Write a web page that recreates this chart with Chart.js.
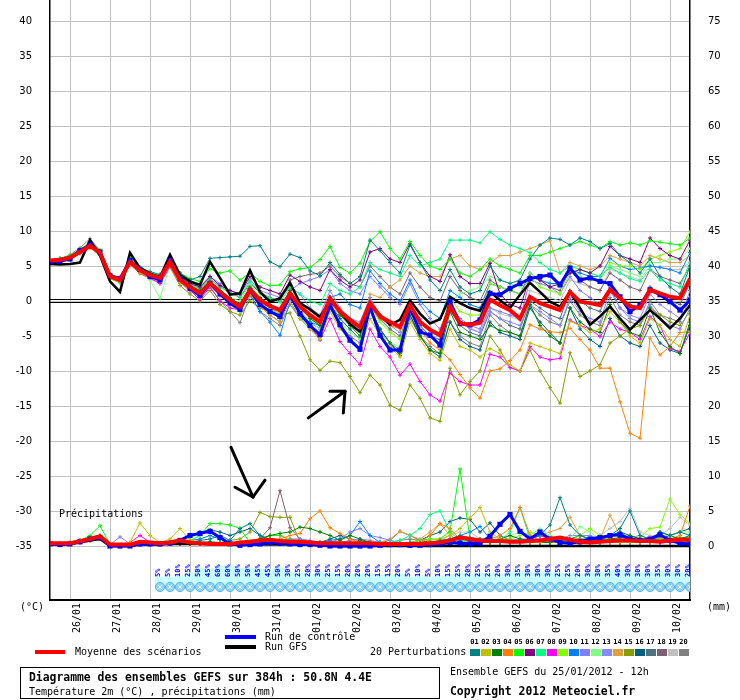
<!DOCTYPE html>
<html><head><meta charset="utf-8">
<script src="https://cdn.jsdelivr.net/npm/chart.js@4.4.0/dist/chart.umd.min.js"></script>
<style>
html,body{margin:0;padding:0;background:#fff;}
#wrap{position:relative;width:740px;height:700px;overflow:hidden;font-family:'DejaVu Sans Mono',monospace;color:#000;}
#c{position:absolute;left:0;top:0;}
.t{position:absolute;font-size:10px;line-height:12px;white-space:nowrap;}
.b{font-weight:bold;font-size:11.4px;line-height:14px;}
.bar{position:absolute;height:4px;width:31px;}
.sw{position:absolute;top:649px;width:10px;height:7px;}
.swl{position:absolute;top:638px;width:11px;text-align:center;font-size:7px;line-height:8px;font-weight:bold;}
#box{position:absolute;left:20px;top:667px;width:418px;height:30px;border:1.5px solid #000;}
</style></head><body>
<div id="wrap">
<canvas id="c" width="740" height="700"></canvas>
<div class="t" style="left:20px;top:601px;">(°C)</div>
<div class="t" style="left:707px;top:601px;">(mm)</div>
<div class="t" style="left:59px;top:508px;">Précipitations</div>
<div class="bar" style="left:35px;top:650px;background:#ff0000;width:30px;"></div>
<div class="t" style="left:75px;top:646px;">Moyenne des scénarios</div>
<div class="bar" style="left:225px;top:635px;background:#0000ff;"></div>
<div class="bar" style="left:225px;top:645px;background:#000;"></div>
<div class="t" style="left:265px;top:631px;">Run de contrôle</div>
<div class="t" style="left:265px;top:641px;">Run GFS</div>
<div class="t" style="left:370px;top:646px;">20 Perturbations</div>
<div id="swatches"></div>
<div id="box"></div>
<div class="t b" style="left:29px;top:670px;">Diagramme des ensembles GEFS sur 384h : 50.8N 4.4E</div>
<div class="t" style="left:29px;top:686px;">Température 2m (°C) , précipitations (mm)</div>
<div class="t" style="left:450px;top:666px;">Ensemble GEFS du 25/01/2012 - 12h</div>
<div class="t b" style="left:450px;top:684px;">Copyright 2012 Meteociel.fr</div>
</div>
<script>
// ---------- DATA ----------
const HOURS = [0,6,12,18,24,30,36,42,48,54,60,66,72,78,84,90,96,102,108,114,120,126,132,138,144,150,156,162,168,174,180,186,192,198,204,210,216,222,228,234,240,246,252,258,264,270,276,282,288,294,300,306,312,318,324,330,336,342,348,354,360,366,372,378,384];
const DATE_HOURS = [12,36,60,84,108,132,156,180,204,228,252,276,300,324,348,372];
const DATES = ['26/01','27/01','28/01','29/01','30/01','31/01','01/02','02/02','03/02','04/02','05/02','06/02','07/02','08/02','09/02','10/02'];
const T_TICKS = [-35,-30,-25,-20,-15,-10,-5,0,5,10,15,20,25,30,35,40];
const MM_TICKS = [0,5,10,15,20,25,30,35,40,45,50,55,60,65,70,75];
const MEMBER_NAMES = ['01','02','03','04','05','06','07','08','09','10','11','12','13','14','15','16','17','18','19','20'];
const MEMBER_COLORS = ['#008080','#c0c000','#008000','#ff8000','#00ff00','#800080','#00ff80','#ff00ff','#80ff00','#0080ff','#8080ff','#80ff80','#8888ff','#e0a040','#80a000','#006080','#507080','#806070','#c0c0c0','#808080'];
const SNOW_PCT = [5,5,10,25,50,45,60,60,50,50,45,45,50,30,25,20,30,25,15,20,20,20,15,15,20,5,10,5,10,15,25,20,25,25,20,30,35,30,30,30,25,25,20,30,30,35,40,30,30,30,35,30,30,20];
const PCT_HOURS = HOURS.slice(11);

// temperature (°C)
const MEAN_T = [5.8,5.9,6.2,7.0,7.9,6.9,3.5,3.0,5.6,4.4,3.7,3.3,5.6, 3.0,2.0,1.1,2.6,1.3,0.1,-0.8,1.6,0.1,-0.7,-1.3,1.1, -0.8,-2.0,-3.0,0.4,-1.5,-2.7,-3.7,-0.3,-2.2,-3.0,-3.7,-0.6, -3.0,-4.1,-4.9,-0.8,-3.2,-3.4,-3.1,0.2,-0.6,-1.3,-2.5,0.6, -0.3,-0.8,-1.3,1.3,-0.1,-0.3,-0.6,1.6,0.4,-0.8,-1.0,1.6,1.1,0.6,0.4,3.2];
const CTRL_T = [5.6,5.7,6.0,7.2,8.0,7.0,3.6,3.2,5.8,4.5,3.5,3.0,5.8, 3.2,1.8,0.8,2.5,1.0,-0.3,-1.2,1.5,-0.5,-1.5,-2.2,0.8, -1.8,-3.5,-4.8,-0.6,-3.4,-5.6,-6.9,-0.8,-4.9,-7.0,-7.0,-1.0, -4.4,-4.9,-6.3,-0.1,-3.2,-3.4,-2.7,1.1,0.9,1.8,2.5,3.2, 3.5,3.7,2.3,4.7,3.0,3.3,2.8,2.5,0.6,-1.5,-0.6,1.6,0.9,-0.1,-1.3,0.1];
const GFS_T = [5.3,5.2,5.3,5.5,8.7,6.5,2.8,1.3,6.9,4.7,3.9,3.4,6.6, 3.7,2.8,2.3,5.6,3.3,0.9,1.1,4.4,1.3,-0.1,0.4,2.6, -0.3,-1.2,-2.3,0.1,-1.5,-3.3,-4.4,-0.3,-2.0,-3.4,-2.7,0.1, -1.8,-3.2,-2.6,0.6,-0.3,-1.0,-1.4,1.3,0.1,-1.0,0.9,2.6, 1.3,-0.1,-0.8,1.3,-1.0,-3.4,-2.2,-0.8,-2.5,-4.1,-2.7,-1.3,-2.5,-3.9,-2.5,-0.6];
const T01 = [5.5,5.8,6.3,7.3,8.2,7.0,3.8,3.2,5.8,4.8,4.2,3.8,6.0, 4.0,3.0,3.5,6.1,6.2,6.3,6.4,7.8,7.9,5.6,4.9,6.7, 6.2,4.3,3.6,5.5,3.8,2.5,3.5,8.7,7.2,5.5,4.0,8.0, 5.5,3.0,1.5,4.5,2.0,1.0,1.5,5.0,3.0,2.5,3.0,6.0, 8.0,9.0,8.8,8.0,9.0,8.5,7.5,8.2,6.5,5.5,4.0,6.0,3.5,2.0,1.0,5.0];
const T02 = [5.4,5.6,6.0,6.8,7.6,6.6,3.2,2.8,5.4,4.0,3.4,3.0,5.2, 2.6,1.6,0.8,2.2,0.8,-0.5,-1.5,1.0,-0.8,-2.0,-3.0,0.0, -2.5,-4.0,-5.5,-1.5,-4.0,-5.5,-7.0,-2.5,-5.0,-6.5,-8.0,-3.0, -5.5,-7.5,-8.5,-4.0,-6.5,-7.0,-8.0,-6.8,-7.5,-9.1,-10.0,-6.0, -6.5,-7.0,-7.5,-2.9,-3.5,-4.5,-4.0,-1.5,-3.0,-5.0,-6.0,-2.5,-3.5,-5.5,-6.5,-2.0];
const T03 = [5.7,5.9,6.1,6.9,7.8,6.8,3.4,2.9,5.7,4.3,3.6,3.2,5.5, 3.0,2.2,1.5,2.8,1.5,0.5,-0.5,2.0,0.5,-0.5,-1.5,1.5, -0.5,-2.5,-3.5,0.5,-2.0,-3.5,-5.0,-1.0,-4.0,-6.0,-7.8,-2.0, -5.0,-7.0,-7.5,-1.5,-4.5,-5.0,-5.5,-3.5,-4.2,-4.5,-5.0,-0.5, -3.5,-5.0,-6.0,-1.0,-3.0,-4.0,-4.5,-0.5,-3.0,-4.5,-5.0,-1.0,-4.5,-6.5,-7.5,-3.0];
const T04 = [5.6,5.7,6.2,7.1,8.0,7.1,3.7,3.1,5.5,4.5,3.8,3.4,5.7, 3.1,2.0,1.2,2.8,1.4,0.2,-0.6,1.9,0.3,-0.6,-1.2,1.3, -0.8,-2.2,-3.2,0.6,-1.4,-2.8,-3.8,-0.4,-2.4,-3.5,-4.0,-1.5, -4.0,-6.0,-7.0,-8.4,-10.5,-12.4,-13.9,-10.0,-9.7,-8.5,-7.0,-3.4, -4.0,-4.4,-4.5,-3.9,-5.5,-7.0,-9.6,-9.6,-14.4,-18.9,-19.6,-5.3,-7.7,-6.5,-4.5,-4.4];
const T05 = [5.8,6.1,6.5,7.4,8.3,7.3,3.9,3.3,6.2,4.8,4.0,3.7,6.1, 4.0,3.2,2.8,4.6,4.0,4.3,3.0,4.0,2.8,2.2,2.3,4.2, 4.6,4.8,5.9,7.8,4.8,4.0,5.4,8.5,9.9,7.5,6.0,8.5, 6.5,5.0,4.5,6.0,4.0,3.5,4.5,6.0,5.0,4.5,4.0,6.5, 6.5,7.0,7.5,8.0,8.5,8.0,7.5,8.5,8.0,8.3,8.0,8.6,8.4,8.2,8.0,9.0];
const T06 = [5.5,5.7,6.2,7.2,8.1,7.0,3.6,3.1,5.9,4.6,3.9,3.5,5.9, 3.5,2.5,2.0,3.5,2.2,1.5,1.0,3.5,2.0,1.5,1.0,3.7, 2.8,2.0,1.5,4.5,3.0,2.0,3.0,7.0,7.5,6.0,5.5,8.2, 5.5,3.5,2.8,6.6,3.5,2.5,2.5,5.4,1.0,-0.5,-1.0,3.5, 3.0,2.0,2.5,4.0,4.5,4.0,5.0,7.8,6.5,6.0,5.5,9.0,7.5,6.5,6.0,8.7];
const T07 = [5.6,6.0,6.4,7.3,8.0,6.9,3.6,3.0,5.6,4.4,3.7,3.4,5.4, 3.2,2.4,1.8,3.2,2.0,1.2,0.6,2.8,1.2,0.4,-0.2,2.0, 1.0,0.0,-0.5,2.5,1.5,1.0,2.0,5.5,4.5,4.0,3.5,6.5, 5.0,5.5,6.0,8.7,8.7,8.7,8.3,9.9,8.8,8.0,7.5,6.9, 5.5,4.5,4.0,5.0,4.5,4.0,3.5,4.8,4.0,3.2,2.8,4.5,3.0,2.5,2.0,5.5];
const T08 = [5.9,6.1,6.4,7.2,8.0,6.8,3.4,2.8,5.3,4.0,3.3,2.5,5.0, 2.6,1.5,0.2,2.0,0.0,-1.0,-1.3,1.2,-0.8,-2.0,-3.0,0.5, -2.0,-3.5,-5.6,-2.5,-5.8,-7.5,-9.1,-4.0,-6.5,-8.0,-10.6,-9.0, -11.5,-13.4,-14.3,-10.3,-11.5,-12.0,-12.0,-7.6,-8.0,-9.5,-10.0,-6.5, -8.0,-8.4,-8.2,-2.7,-3.5,-4.0,-5.1,-3.0,-4.0,-4.5,-5.5,-2.2,-3.5,-6.8,-7.2,-4.5];
const T09 = [5.5,5.8,6.1,7.0,7.9,6.9,3.5,3.1,5.6,4.4,3.7,3.3,5.6, 3.0,2.0,1.0,2.6,1.2,0.0,-0.8,1.5,0.0,-1.0,-2.0,1.0, -1.0,-2.5,-3.5,0.0,-2.0,-3.5,-4.5,-0.5,-3.0,-4.5,-5.5,-1.0, -3.0,-4.0,-4.5,0.5,-1.5,-2.0,-2.0,2.5,2.0,1.5,1.0,3.5, 2.0,1.5,1.0,4.0,3.5,3.0,3.0,5.5,5.0,5.0,4.5,6.0,6.5,7.0,7.5,9.9];
const T10 = [5.7,5.9,6.3,7.0,7.8,6.8,3.5,3.0,5.5,4.3,3.5,3.1,5.4, 2.8,1.8,0.8,2.4,0.8,-0.5,-1.5,1.0,-1.5,-3.0,-4.9,0.0, -2.5,-3.0,-3.5,0.5,1.0,-0.5,-1.0,4.3,2.5,1.0,0.0,3.0, 0.0,-1.5,-2.5,1.5,0.5,-0.5,-1.0,2.5,2.0,1.5,1.0,3.5, 3.0,2.5,2.5,4.5,4.0,3.5,3.5,6.1,5.0,4.5,4.7,5.0,4.8,4.5,4.0,6.9];
const T11 = [5.5,5.7,6.0,6.9,7.7,6.7,3.3,2.8,5.4,4.2,3.5,3.0,5.3, 2.8,1.8,1.0,2.5,1.0,0.0,-1.0,1.5,-0.5,-1.5,-2.5,1.5, 2.5,3.0,3.5,4.5,2.5,1.5,1.0,3.5,2.0,0.5,-0.5,2.5, -0.5,-2.5,-4.0,-0.5,-2.5,-3.5,-4.0,-1.0,-1.5,-2.0,-2.5,3.0, 2.5,2.0,1.0,3.5,1.5,0.5,-0.5,2.0,-1.0,-2.5,-3.0,-0.5,-2.5,-3.5,-4.0,-1.0];
const T12 = [5.6,5.8,6.1,7.1,7.9,6.8,3.8,3.4,6.0,4.6,3.0,0.4,5.2, 3.5,2.5,1.5,3.0,1.5,0.5,0.0,2.5,0.5,-0.5,-1.5,1.0, -1.5,-3.0,-4.0,-0.5,-3.0,-4.5,-5.5,-1.5,-4.5,-6.0,-6.5,-2.0, -3.0,-4.0,-4.5,0.0,1.0,1.5,2.0,3.5,3.0,2.5,2.0,4.0, 3.0,2.5,2.0,5.0,4.5,4.0,3.5,5.0,4.5,4.0,3.5,5.5,5.5,6.0,6.0,7.5];
const T13 = [5.4,5.6,6.0,6.8,7.6,6.7,3.5,3.0,5.5,4.4,3.8,3.4,5.8, 3.6,2.8,2.0,3.5,2.5,1.5,1.0,3.0,1.5,1.0,0.5,2.0, 1.0,-1.0,-2.0,1.5,-1.0,-2.5,-3.0,0.5,-2.0,-3.5,-4.5,-0.5, -2.5,-4.5,-5.0,-1.5,-3.0,-4.0,-4.5,-1.5,-2.5,-3.0,-3.5,-0.5, -1.5,-2.5,-3.5,0.5,-1.5,-2.5,-3.0,1.5,-1.0,-2.0,-2.5,1.0,-0.5,-1.5,-2.5,1.5];
const T14 = [5.7,5.9,6.2,7.1,7.9,6.8,3.3,2.9,5.4,4.2,3.5,3.1,5.5, 2.9,1.9,1.0,2.5,1.2,0.2,-0.5,1.8,0.2,-0.8,-1.8,1.2, -0.5,-2.0,-3.5,-0.5,-2.0,-3.0,-4.0,1.0,0.5,2.0,3.0,5.0, 4.0,3.5,3.5,6.0,6.5,5.0,4.5,5.4,6.5,6.5,7.0,7.5, 8.0,8.6,4.0,5.5,5.0,4.5,5.0,6.5,6.0,5.5,5.0,6.5,6.0,5.5,5.5,6.5];
const T15 = [5.5,5.6,5.9,6.8,7.6,6.5,3.2,2.6,5.2,3.9,3.2,2.5,4.8, 2.2,1.0,0.0,1.5,-0.5,-1.5,-2.0,0.0,-1.0,-1.5,-2.0,-1.7, -5.0,-8.4,-9.9,-8.6,-8.8,-10.8,-13.1,-10.6,-12.0,-14.9,-15.6,-12.0, -13.9,-16.7,-17.2,-9.6,-13.4,-11.5,-10.0,-5.0,-7.0,-9.5,-10.0,-7.0, -10.0,-12.4,-14.6,-7.4,-10.8,-10.0,-9.1,-6.0,-5.0,-4.0,-3.5,-1.0,-2.0,-3.0,-3.5,-1.5];
const T16 = [5.6,5.8,6.1,7.0,7.8,6.9,3.6,3.0,5.6,4.5,3.8,3.4,5.7, 3.2,2.2,1.5,3.0,1.5,0.5,-0.5,1.5,0.0,-1.0,-2.0,0.5, -1.5,-3.0,-4.0,-0.5,-2.5,-4.0,-5.5,-1.0,-4.0,-6.0,-7.5,-2.0, -5.0,-7.0,-8.0,-3.0,-5.5,-6.5,-7.0,-3.0,-4.5,-5.0,-5.5,-1.0, -3.0,-4.5,-6.0,-1.0,-4.0,-5.5,-6.5,-2.5,-5.0,-6.0,-6.5,-3.5,-6.0,-7.0,-7.5,-3.5];
const T17 = [5.5,5.7,6.1,7.0,7.8,6.7,3.4,2.9,5.5,4.3,3.6,3.2,5.5, 2.9,1.9,1.2,2.7,1.2,0.0,-1.0,1.3,-0.5,-1.5,-2.5,0.8, -1.0,-2.5,-3.5,0.5,-2.0,-3.0,-4.0,0.0,-2.5,-4.0,-5.0,-1.5, -3.5,-5.0,-5.5,-1.0,-3.5,-4.5,-5.0,-1.5,-2.5,-3.5,-4.0,0.0, -1.0,-2.0,-2.5,1.5,0.0,-1.0,-1.5,2.0,0.5,-0.5,-1.0,2.0,1.0,0.0,-0.5,2.5];
const T18 = [5.4,5.6,6.0,6.9,7.7,6.7,3.5,3.0,5.6,4.5,3.8,3.5,5.8, 3.4,2.4,1.8,3.2,2.0,1.2,0.5,2.5,1.2,0.5,0.0,3.0, 3.5,3.8,4.0,5.0,3.5,2.5,2.0,5.0,3.5,2.0,1.0,4.0, 2.0,0.5,0.0,3.5,1.5,0.5,0.0,3.0,2.0,1.5,1.0,4.0, 3.0,2.0,1.5,4.5,3.0,2.0,1.5,4.0,3.0,2.0,1.5,4.5,3.5,3.0,2.5,5.0];
const T19 = [5.6,5.8,6.2,7.0,7.9,6.9,3.5,3.1,5.7,4.4,3.6,3.2,5.6, 3.0,2.1,1.2,2.7,1.3,0.2,-0.6,1.6,0.0,-1.0,-1.8,1.0, -0.8,-2.3,-3.4,0.3,-1.8,-3.2,-4.5,-0.5,-2.8,-4.2,-5.5,-1.2, -3.5,-5.0,-6.0,-1.5,-3.0,-3.8,-4.5,-1.0,-1.8,-2.2,-2.8,1.5, 1.0,0.5,0.0,3.0,2.5,2.0,1.5,4.5,4.0,3.5,3.0,5.0,4.8,4.5,4.5,5.5];
const T20 = [5.5,6.0,6.6,7.6,8.9,7.2,3.5,3.0,5.8,4.5,3.4,2.8,5.8, 3.0,1.5,0.5,2.0,0.0,-1.5,-3.1,0.8,-1.5,-2.5,-3.5,-0.5, -2.5,-4.0,-5.0,-1.0,-3.5,-5.0,-6.0,-1.5,-4.5,-6.0,-7.0,-2.5, -5.0,-6.5,-7.5,-3.0,-5.0,-6.0,-6.5,-2.0,-3.5,-4.5,-5.0,-0.5, -2.0,-3.0,-3.5,0.0,-2.0,-3.0,-3.5,0.5,-2.0,-3.0,-3.5,0.0,-2.0,-2.5,-3.0,0.5];

// precipitation (mm)
const MEAN_P = [0.4,0.4,0.4,0.7,1.0,1.4,0.2,0.2,0.2,0.6,0.5,0.4,0.5, 0.8,0.5,0.4,0.3,0.3,0.3,0.5,0.6,0.8,0.9,0.7,0.6, 0.6,0.5,0.4,0.4,0.4,0.4,0.4,0.4,0.3,0.3,0.3,0.3, 0.3,0.4,0.5,0.8,1.2,1.0,0.8,0.7,0.7,0.6,0.6,0.7, 0.8,1.0,1.2,0.9,0.6,0.5,0.6,0.7,0.8,0.8,0.7,0.7,0.6,0.8,0.9,0.9];
const CTRL_P = [0.3,0.2,0.3,0.6,1.0,1.2,0,0,0,0.3,0.3,0.3,0.4, 0.8,1.5,1.8,2.1,1.2,0.3,0.1,0.2,0.3,0.5,0.4,0.3, 0.2,0.2,0.1,0,0,0,0,0,0.1,0.2,0.2,0.1, 0.1,0.2,0.3,0.5,0.4,0.3,0.4,1.4,3.1,4.5,2.1,1.0, 2.0,1.0,0.5,0.4,0.6,1.0,1.2,1.5,1.6,1.0,0.8,1.0,1.6,0.8,0.4,0.3];
const GFS_P = [0.2,0.2,0.3,0.5,0.8,1.0,0,0,0,0.2,0.2,0.2,0.3, 0.3,0.3,0.3,0.3,0.2,0.2,0.2,0.2,0.2,0.2,0.2,0.2, 0.2,0.2,0.1,0,0,0,0,0,0,0,0,0, 0,0,0,0,0,0,0,0,0,0,0,0, 0,0,0,0,0,0,0,0,0,0,0,0,0,0,0,0];
const P01 = [0.3,0.3,0.5,0.8,1.2,1.5,0,0,0,0.3,0.3,0.3,0.5, 0.5,0.5,0.8,1.0,1.5,0.8,2.5,3.2,1.5,0.5,0.3,0.3, 0.3,0.2,0.2,0.2,0.3,0.5,0.5,0.3,0.2,0.2,0.3,0.5, 0.5,0.5,0.8,1.0,1.5,1.2,1.0,1.0,0.5,0.5,0.8,1.0, 1.5,3.0,6.9,3.0,1.5,1.0,0.8,1.5,2.5,5.0,1.5,1.0,2.0,1.5,2.0,1.5];
const P02 = [0.2,0.3,0.4,0.8,1.0,1.2,0,0,0.5,3.3,1.5,0.5,1.0, 2.5,0.8,0.5,0.3,0.2,0.2,0.3,0.3,0.5,0.3,0.2,0.2, 0.2,0.2,0.3,0.3,0.2,0.2,0.2,0.2,0.2,0.3,0.3,0.5, 0.8,0.8,1.0,1.5,2.5,4.0,5.5,2.0,1.0,0.8,0.5,0.5, 0.5,0.8,1.0,0.8,0.5,0.8,1.2,0.8,0.5,0.5,0.8,1.0,1.2,0.8,0.5,0.5];
const P03 = [0.3,0.3,0.4,0.6,1.0,1.3,0,0,0,0.2,0.3,0.3,0.4, 0.5,0.5,0.5,0.6,0.5,0.4,0.3,0.5,1.0,1.5,1.8,2.0, 2.7,2.5,2.0,1.5,0.8,1.5,1.0,0.5,0.3,0.3,0.2,0.3, 0.3,0.5,0.5,0.8,1.0,0.8,0.5,0.5,1.0,1.5,1.0,0.8, 0.5,0.5,0.8,1.0,0.8,0.5,0.5,1.0,1.2,1.5,1.0,0.8,2.0,1.5,1.0,1.5];
const P04 = [0.2,0.2,0.3,0.5,0.8,1.0,0,0,0,0.2,0.2,0.3,0.3, 0.3,0.3,0.3,0.4,0.3,0.3,0.3,0.4,0.5,0.8,1.0,1.5, 1.8,3.9,5.0,2.6,1.8,1.0,0.5,0.3,0.2,0.2,0.2,0.3, 0.5,1.5,3.2,2.5,1.0,0.8,0.8,1.0,1.5,2.5,5.5,1.5, 0.8,0.5,0.5,0.8,1.0,0.8,0.5,0.5,0.5,0.8,0.5,0.5,0.8,1.0,1.5,5.7];
const P05 = [0.3,0.3,0.5,0.8,1.5,2.9,0.2,0,0,0.3,0.3,0.3,0.5, 0.5,0.8,1.5,3.2,3.2,3.0,2.5,0.5,1.0,1.5,1.5,0.8, 0.5,0.3,0.3,0.2,0.2,0.3,0.5,0.5,0.5,0.5,0.3,0.5, 0.8,1.0,1.0,2.1,11.0,1.0,0.8,0.5,0.5,0.8,0.8,0.5, 0.5,0.5,0.8,0.8,0.5,0.5,0.8,1.0,1.0,0.5,0.5,0.8,1.0,0.8,0.5,0.8];
const P06 = [0.2,0.2,0.3,0.5,0.8,1.0,0,0,0,0.2,0.2,0.2,0.3, 0.3,0.3,0.3,0.3,0.3,0.3,0.3,0.3,0.5,0.5,0.5,0.5, 0.3,0.3,0.3,0.2,0.2,0.2,0.2,0.2,0.2,0.2,0.2,0.3, 0.3,0.3,0.3,0.5,0.5,0.5,0.5,0.8,1.0,0.8,0.5,0.5, 0.5,0.5,0.5,0.5,0.5,0.8,1.0,0.8,0.5,0.5,0.5,0.8,0.8,0.5,0.5,0.5];
const P07 = [0.3,0.3,0.4,0.6,1.0,1.2,0,0,0,0.3,0.3,0.3,0.4, 0.4,0.4,0.4,0.5,0.4,0.3,0.3,0.3,0.5,0.5,0.5,0.5, 0.5,0.4,0.3,0.3,0.3,0.3,0.3,0.3,0.3,0.5,0.8,1.5, 2.5,4.5,5.0,2.0,0.8,0.5,0.5,0.5,0.8,2.0,5.5,1.0, 0.5,0.5,0.5,0.8,0.8,0.5,0.5,0.5,0.8,0.8,0.5,0.5,0.8,0.8,0.5,0.5];
const P08 = [0.5,0.3,0.3,0.5,0.8,1.0,0,0,0.5,1.5,0.5,0.3,0.3, 0.3,0.3,0.3,0.3,0.3,0.3,0.3,0.3,0.3,0.3,0.3,0.3, 0.3,0.3,0.3,0.3,0.3,0.3,0.3,0.3,0.3,0.3,0.3,0.3, 0.3,0.3,0.3,0.5,0.5,0.5,0.5,0.5,0.5,0.5,0.5,1.0, 1.5,1.0,0.5,0.5,0.5,0.5,0.5,0.5,0.5,0.5,0.5,0.5,0.5,0.5,0.5,0.5];
const P09 = [0.3,0.3,0.4,0.6,1.0,1.2,0,0,0,0.3,0.3,0.3,0.4, 0.4,0.4,0.4,0.4,0.4,0.3,0.3,0.3,0.3,0.3,0.3,0.3, 0.3,0.3,0.3,0.3,0.3,0.3,0.3,0.3,0.3,0.3,0.3,0.3, 0.3,0.5,0.5,0.5,0.5,0.8,0.8,0.8,1.0,1.0,1.5,2.0, 1.5,1.0,0.8,0.8,1.5,2.5,1.5,1.0,0.8,0.8,1.2,2.5,2.7,6.7,4.5,3.2];
const P10 = [0.3,0.3,0.4,0.6,1.0,1.2,0,0,0,0.3,0.3,0.3,0.5, 0.5,0.8,1.0,1.5,1.0,0.5,0.3,0.3,0.3,0.3,0.3,0.3, 0.3,0.5,0.5,0.8,1.0,1.5,3.5,1.5,0.5,0.3,0.3,0.3, 0.3,0.3,0.5,0.8,1.5,2.0,2.8,1.0,0.5,0.5,0.8,0.8, 0.5,0.5,0.5,0.8,0.8,1.0,1.0,0.8,0.5,0.5,0.8,1.0,1.0,0.8,0.8,0.5];
const P11 = [0.3,0.3,0.4,0.6,1.0,1.2,0.2,1.3,0.3,0.3,0.3,0.3,0.4, 0.4,0.4,0.4,0.5,0.5,0.5,0.5,0.5,0.5,0.5,0.8,1.0, 1.0,0.8,0.5,0.5,1.0,2.0,2.5,1.5,1.2,0.8,0.5,0.5, 0.5,0.5,0.5,0.5,0.5,0.5,0.8,0.8,0.8,0.8,0.8,1.0, 1.5,1.0,0.8,0.5,0.5,1.0,1.5,1.0,0.8,0.8,0.5,0.5,0.5,0.5,0.8,0.8];
const P12 = [0.3,0.3,0.4,0.6,1.0,1.3,0,0,0,0.3,0.3,0.3,0.5, 0.5,0.5,0.5,0.5,0.5,0.5,0.5,0.5,0.5,0.5,0.5,0.5, 0.5,0.5,0.5,0.5,0.5,0.5,0.5,0.5,0.5,0.5,0.5,0.5, 0.5,0.5,0.5,0.8,1.0,1.0,1.0,1.0,1.0,1.5,2.0,1.5, 2.5,1.5,1.0,1.0,2.8,2.0,1.0,1.0,1.0,1.0,1.0,1.0,1.5,1.5,2.0,2.0];
const P13 = [0.3,0.3,0.4,0.6,1.0,1.2,0,0,0,0.3,0.3,0.3,0.4, 0.4,0.4,0.4,0.4,0.4,0.3,0.3,0.3,0.5,0.5,0.5,0.5, 0.5,0.5,0.5,0.5,0.5,0.8,1.0,0.8,0.5,0.5,0.5,0.5, 0.5,0.5,0.5,0.5,0.5,0.5,0.5,0.5,0.5,0.8,1.0,1.0, 1.0,1.0,1.0,1.5,1.5,1.5,1.0,1.0,1.0,1.2,1.5,1.0,1.0,1.0,0.8,0.8];
const P14 = [0.3,0.3,0.4,0.6,1.0,1.2,0,0,0,0.3,0.3,0.3,0.4, 0.4,0.4,0.4,0.4,0.4,0.3,0.5,0.8,1.0,1.5,1.5,1.0, 0.8,0.5,0.5,0.5,0.5,0.5,0.5,0.5,0.5,1.0,2.1,1.5, 1.0,2.0,3.2,1.5,0.8,0.5,0.5,0.5,0.8,0.8,0.8,1.0, 1.5,2.0,2.5,4.1,1.5,1.0,1.0,4.4,1.5,1.0,0.8,0.8,0.8,0.8,1.0,1.0];
const P15 = [0.3,0.3,0.4,0.6,1.0,1.2,0,0,0,0.3,0.3,0.3,0.4, 0.4,0.4,0.4,0.4,0.5,0.8,1.0,2.0,4.8,4.2,4.1,4.1, 0.5,0.3,0.3,0.3,0.3,0.3,0.3,0.3,0.3,0.3,0.3,0.3, 0.3,0.5,0.5,0.5,0.8,1.0,1.0,0.8,0.8,0.8,0.8,0.8, 0.8,0.8,0.8,0.8,0.8,1.0,1.0,1.0,1.0,1.0,1.0,1.0,1.0,1.0,1.2,1.2];
const P16 = [0.3,0.3,0.4,0.6,1.0,1.2,0,0,0,0.3,0.3,0.3,0.4, 0.8,1.5,2.0,2.3,2.0,1.5,2.0,2.5,1.5,1.0,0.5,0.5, 0.5,0.5,0.5,1.0,1.5,1.0,0.8,0.5,0.5,0.5,0.5,0.5, 0.8,1.5,2.0,3.5,4.0,3.8,2.0,3.3,1.5,0.8,0.5,0.5, 0.5,0.5,0.8,1.0,1.5,1.0,0.8,1.5,2.0,1.5,1.0,0.8,1.0,1.5,2.0,2.5];
const P17 = [0.3,0.3,0.4,0.6,1.0,1.2,0,0,0,0.3,0.3,0.3,0.4, 0.4,0.4,0.4,0.4,0.4,0.3,0.3,0.3,0.3,0.5,0.5,0.5, 0.5,0.5,0.5,0.5,0.5,0.5,0.5,0.5,0.5,0.5,0.5,0.5, 0.5,0.5,0.5,0.5,0.5,0.5,0.5,0.8,0.8,0.8,0.8,0.8, 0.8,0.8,0.8,1.0,1.0,1.0,1.0,1.2,2.0,1.0,1.0,0.8,0.8,0.8,0.8,0.8];
const P18 = [0.3,0.3,0.4,0.6,1.0,1.2,0,0,0,0.3,0.3,0.3,0.4, 0.4,0.4,0.4,0.4,0.4,0.3,0.3,0.5,1.0,2.6,7.9,2.6, 1.0,0.5,0.5,0.5,0.5,0.5,0.5,0.5,0.5,0.8,2.1,1.5, 0.8,0.5,0.5,0.5,0.5,0.5,0.5,0.5,0.5,0.5,0.5,0.5, 0.5,0.5,0.5,0.5,0.5,0.5,0.5,0.5,0.5,0.5,0.5,0.5,0.5,0.5,0.5,0.5];
const P19 = [0.3,0.3,0.4,0.6,1.0,1.2,0,0,0,0.3,0.3,0.3,0.4, 0.4,0.4,0.4,0.4,0.4,0.3,0.3,0.3,0.3,0.3,0.3,0.3, 0.3,0.3,0.3,0.3,0.3,0.3,0.3,0.3,0.3,0.3,0.3,0.3, 0.3,0.5,0.8,1.5,2.0,2.0,1.0,0.8,0.8,0.8,0.8,0.8, 0.8,0.8,0.8,0.8,0.8,1.0,1.5,2.5,3.5,5.4,2.0,1.5,1.5,2.5,4.1,3.0];
const P20 = [0.3,0.3,0.4,0.8,1.2,1.5,0,0,0,0.3,0.3,0.3,0.4, 0.4,0.4,0.4,0.4,0.4,0.3,0.3,0.3,0.3,0.3,0.3,0.3, 0.3,0.3,0.3,0.3,0.3,0.3,0.3,0.3,0.3,0.5,0.8,1.0, 0.8,0.5,0.5,0.5,0.5,0.5,0.5,0.5,0.5,0.5,0.5,0.5, 0.5,0.5,0.5,0.5,0.8,1.0,0.8,0.5,0.5,0.5,0.5,0.5,0.5,0.5,0.5,0.5];

const MEMBERS_T = [T01,T02,T03,T04,T05,T06,T07,T08,T09,T10,T11,T12,T13,T14,T15,T16,T17,T18,T19,T20];
const MEMBERS_P = [P01,P02,P03,P04,P05,P06,P07,P08,P09,P10,P11,P12,P13,P14,P15,P16,P17,P18,P19,P20];

// annotation arrows, in (hours, °C)
const ARROWS = [
  {tail:[155,-16.7], tip:[177,-12.9], heads:[[168,-12.9],[176,-16.0]]},
  {tail:[108.6,-20.9], tip:[121.8,-28.0], heads:[[111,-26.6],[129,-25.6]]}
];
const PCT_TEXT_BASE = 5;   // on the hidden yP scale
const ICON_LEVEL = -45;
const BAR_BASE = -50;

// ---------- legend swatches ----------
const sw = document.getElementById('swatches');
MEMBER_NAMES.forEach((n,i)=>{
  const l = document.createElement('div'); l.className='swl'; l.style.left=(469+11*i)+'px'; l.textContent=n; sw.appendChild(l);
  const b = document.createElement('div'); b.className='sw'; b.style.left=(470+11*i)+'px'; b.style.background=MEMBER_COLORS[i]; sw.appendChild(b);
});

// ---------- chart ----------
const xy = arr => arr.map((v,i)=>({x:HOURS[i], y:v}));
const datasets = [];
datasets.push({data:xy(MEAN_T), borderColor:'#ff0000', borderWidth:4, pointRadius:0, yAxisID:'y', order:0});
datasets.push({data:xy(CTRL_T), borderColor:'#0000ff', backgroundColor:'#0000ff', borderWidth:3, pointRadius:1.5, pointStyle:'rect', yAxisID:'y', order:1});
datasets.push({data:xy(GFS_T), borderColor:'#000000', backgroundColor:'#000', borderWidth:2.5, pointRadius:0, yAxisID:'y', order:2});
datasets.push({data:xy(MEAN_P), borderColor:'#ff0000', borderWidth:4, pointRadius:0, yAxisID:'y2', order:0});
datasets.push({data:xy(CTRL_P), borderColor:'#0000ff', backgroundColor:'#0000ff', borderWidth:3, pointRadius:1.5, pointStyle:'rect', yAxisID:'y2', order:1});
datasets.push({data:xy(GFS_P), borderColor:'#000000', borderWidth:2.5, pointRadius:0, yAxisID:'y2', order:2});
MEMBERS_T.forEach((arr,k)=>{
  datasets.push({data:xy(arr), borderColor:MEMBER_COLORS[k], backgroundColor:MEMBER_COLORS[k], borderWidth:1, pointRadius:2, pointStyle:'cross', pointBorderWidth:1, yAxisID:'y', order:3+k});
  datasets.push({data:xy(MEMBERS_P[k]), borderColor:MEMBER_COLORS[k], backgroundColor:MEMBER_COLORS[k], borderWidth:1, pointRadius:2, pointStyle:'cross', pointBorderWidth:1, yAxisID:'y2', order:3+k});
});
// snow probability band, icons
datasets.push({type:'bar', data:PCT_HOURS.map((h,i)=>({x:h, y:SNOW_PCT[i]})), base:BAR_BASE, backgroundColor:'#c8ffff', borderWidth:0, barPercentage:1, categoryPercentage:1, yAxisID:'yP', order:60});
datasets.push({data:PCT_HOURS.map(h=>({x:h, y:ICON_LEVEL})), showLine:false, pointStyle:'circle', pointRadius:4.6, backgroundColor:'#8fd3f5', borderColor:'#58b4e6', pointBorderWidth:1, yAxisID:'yP', order:59});
datasets.push({data:PCT_HOURS.map(h=>({x:h, y:ICON_LEVEL})), showLine:false, pointStyle:'crossRot', pointRadius:3, borderColor:'#e6f8ff', pointBorderWidth:1, yAxisID:'yP', order:58});

const overlay = {
  id:'overlay',
  beforeDatasetsDraw(chart){
    const {ctx, chartArea:a, scales} = chart;
    const y0 = scales.y.getPixelForValue(0);
    ctx.save(); ctx.strokeStyle='#000'; ctx.lineWidth=1;
    [y0-2, y0+1].forEach(yy=>{ const p=Math.round(yy)+0.5; ctx.beginPath(); ctx.moveTo(a.left,p); ctx.lineTo(a.right,p); ctx.stroke(); });
    ctx.restore();
  },
  afterDatasetsDraw(chart){
    const {ctx, chartArea:a, scales} = chart;
    const xs = scales.x, yP = scales.yP, ys = scales.y;
    ctx.save();
    ctx.beginPath(); ctx.rect(a.left,a.top,a.right-a.left,a.bottom-a.top); ctx.clip();
    ctx.fillStyle='#0000ff'; ctx.font='bold 7px "DejaVu Sans Mono"'; ctx.textAlign='left'; ctx.textBaseline='middle';
    const yb = yP.getPixelForValue(PCT_TEXT_BASE);
    PCT_HOURS.forEach((h,i)=>{
      ctx.save(); ctx.translate(xs.getPixelForValue(h)-2, yb); ctx.rotate(-Math.PI/2);
      ctx.fillText(SNOW_PCT[i]+'%',0,0); ctx.restore();
    });
    ctx.strokeStyle='#000'; ctx.lineWidth=3; ctx.lineCap='round'; ctx.lineJoin='round';
    const P = p => [xs.getPixelForValue(p[0]), ys.getPixelForValue(p[1])];
    ARROWS.forEach(ar=>{
      const t=P(ar.tail), tp=P(ar.tip);
      ctx.beginPath(); ctx.moveTo(t[0],t[1]); ctx.lineTo(tp[0],tp[1]); ctx.stroke();
      ar.heads.forEach(hd=>{ const h=P(hd); ctx.beginPath(); ctx.moveTo(h[0],h[1]); ctx.lineTo(tp[0],tp[1]); ctx.stroke(); });
    });
    ctx.restore();
  },
  afterDraw(chart){
    // axis tick labels, positioned through the scales
    const {ctx, chartArea:a, scales} = chart;
    ctx.save();
    ctx.fillStyle='#000';
    ctx.font='10px "DejaVu Sans"'; ctx.textBaseline='middle';
    ctx.textAlign='right';
    T_TICKS.forEach(v=>ctx.fillText(String(v), a.left-18, scales.y.getPixelForValue(v)));
    ctx.textAlign='left';
    MM_TICKS.forEach(v=>ctx.fillText(String(v), a.right+18, scales.y2.getPixelForValue(v)));
    ctx.font='10px "DejaVu Sans Mono"'; ctx.textAlign='right';
    DATE_HOURS.forEach((h,i)=>{
      ctx.save(); ctx.translate(scales.x.getPixelForValue(h)+7, a.bottom+3); ctx.rotate(-Math.PI/2);
      ctx.fillText(DATES[i],0,0); ctx.restore();
    });
    ctx.restore();
  }
};

new Chart(document.getElementById('c'), {
  type:'line',
  data:{datasets},
  options:{
    responsive:false, animation:false, devicePixelRatio:1,
    layout:{padding:0, autoPadding:false},
    events:[],
    plugins:{legend:{display:false}, tooltip:{enabled:false}},
    elements:{line:{tension:0}},
    scales:{
      x:{type:'linear', position:'bottom', min:0, max:384, offset:false,
        afterBuildTicks: s => { s.ticks = DATE_HOURS.map(v=>({value:v})); },
        afterFit: s => { s.height = 100; },
        ticks:{display:false},
        grid:{color:'#c0c0c0', lineWidth:1, drawTicks:false, offset:false},
        border:{color:'#000', width:2}},
      y:{position:'left', min:-42.714, max:43,
        afterBuildTicks: s => { s.ticks = T_TICKS.map(v=>({value:v})); },
        afterFit: s => { s.width = 50; },
        ticks:{display:false},
        grid:{color:'#c0c0c0', lineWidth:1, drawTicks:false},
        border:{color:'#000', width:1.5}},
      y2:{position:'right', min:-7.714, max:78,
        afterFit: s => { s.width = 50; },
        ticks:{display:false},
        grid:{display:false, drawTicks:false},
        border:{color:'#000', width:1.5}},
      yP:{display:false, min:-110, max:2890}
    }
  },
  plugins:[overlay]
});
</script>
</body></html>
